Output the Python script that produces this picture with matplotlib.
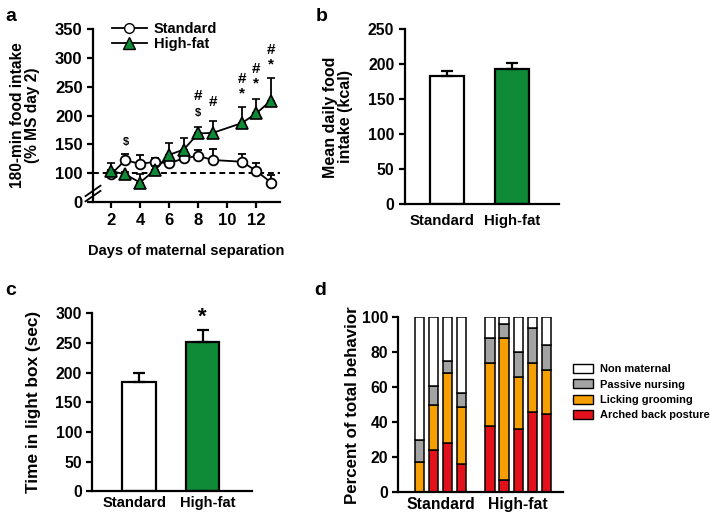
import matplotlib
matplotlib.use('Agg')
import matplotlib.pyplot as plt
import numpy as np
from matplotlib.patches import Patch
from matplotlib.lines import Line2D

plt.rcParams['font.family'] = ['Liberation Sans', 'DejaVu Sans']
plt.rcParams['font.weight'] = 'bold'
plt.rcParams['axes.labelweight'] = 'bold'
plt.rcParams['axes.linewidth'] = 1.6

GREEN = '#0f8a36'
ORANGE = '#f5a000'
RED = '#e3111b'
GREY = '#a3a3a3'

# panel a: food intake over days of maternal separation
days = [2, 3, 4, 5, 6, 7, 8, 9, 11, 12, 13]
std_intake = [98, 123, 116, 120, 117, 126, 130, 123, 120, 104, 84]
std_err = [8, 10, 15, 7, 8, 8, 10, 19, 13, 13, 13]
hf_intake = [104, 98, 84, 105, 132, 141, 169, 170, 187, 204, 226]
hf_err = [14, 5, 14, 8, 20, 20, 12, 21, 28, 25, 39]
# annotations (day, height, symbol)
marks_a = [(3, 146, '$'), (8, 196, '$'), (8, 221, '#'), (9, 211, '#'),
           (11, 226, '*'), (11, 252, '#'), (12, 244, '*'), (12, 268, '#'),
           (13, 277, '*'), (13, 302, '#')]

# panel b: mean daily food intake
groups = ['Standard', 'High-fat']
daily_kcal = [183, 194]
daily_err = [8, 8]

# panel c: time in light box
light_time = [184, 252]
light_err = [16, 19]

# panel d: maternal behaviour per dam (4 standard, 5 high-fat)
arched = [0, 24, 28, 16, 38, 7, 36, 46, 45]
licking = [17, 26, 40, 33, 36, 81, 30, 28, 25]
passive = [13, 11, 7, 8, 14, 8, 14, 20, 14]
non_maternal = [100 - a - l - p for a, l, p in zip(arched, licking, passive)]
dam_pos = [0, 1, 2, 3, 5, 6, 7, 8, 9]

fig = plt.figure(figsize=(7.1, 5.17), dpi=100)


def style(ax, size=11):
    ax.spines['top'].set_visible(False)
    ax.spines['right'].set_visible(False)
    ax.tick_params(width=1.6, length=4, labelsize=size)
    for t in ax.get_xticklabels() + ax.get_yticklabels():
        t.set_fontweight('bold')


# ---- a ----
ax = fig.add_axes([0.131, 0.609, 0.263, 0.335])
ax.axhline(100, color='black', ls=(0, (3, 2)), lw=1.4, zorder=1)
ax.errorbar(days, std_intake, yerr=[np.zeros(len(days)), std_err], color='black',
            lw=1.3, capsize=3, capthick=1.3, marker='o', ms=7, mfc='white',
            mec='black', mew=1.3, zorder=3)
ax.errorbar(days, hf_intake, yerr=[np.zeros(len(days)), hf_err], color='black',
            lw=1.3, capsize=3, capthick=1.3, marker='^', ms=8, mfc=GREEN,
            mec='black', mew=1.2, zorder=4)
for d, h, s in marks_a:
    ax.text(d, h, s, ha='center', va='bottom',
            fontsize=8 if s == '$' else 11, fontweight='bold')
ax.set_xlim(0.77, 13.6)
ax.set_ylim(50, 350)
ax.set_xticks([2, 4, 6, 8, 10, 12])
ax.set_yticks([50, 100, 150, 200, 250, 300, 350])
ax.set_yticklabels(['0', '100', '150', '200', '250', '300', '350'])
ax.set_xlabel('Days of maternal separation', fontsize=10.5, labelpad=12)
ax.set_ylabel('180-min food intake\n(% MS day 2)', fontsize=11.2, linespacing=1.0)
ax.yaxis.set_label_coords(-0.283, 0.5)
style(ax, 12)
# axis break mark
for dy in (-0.015, 0.015):
    ax.plot([-0.04, 0.04], [0.05 + dy - 0.03, 0.05 + dy + 0.03],
            transform=ax.transAxes, color='black', lw=1.3, clip_on=False)
handles = [Line2D([], [], color='black', lw=1.3, marker='o', ms=7, mfc='white', mec='black'),
           Line2D([], [], color='black', lw=1.3, marker='^', ms=8, mfc=GREEN, mec='black')]
ax.legend(handles, groups, loc='upper left', bbox_to_anchor=(0.10, 1.04), frameon=False,
          fontsize=10.5, handlelength=2.4, handletextpad=0.5, labelspacing=0.05,
          borderaxespad=0, borderpad=0)
fig.text(0.007, 0.985, 'a', fontsize=14, fontweight='bold', va='top')

# ---- b ----
ax = fig.add_axes([0.570, 0.605, 0.218, 0.338])
ax.bar([0, 1], daily_kcal, width=0.51, color=['white', GREEN], edgecolor='black', lw=1.6)
ax.errorbar([0, 1], daily_kcal, yerr=[[0, 0], daily_err], fmt='none', ecolor='black',
            elinewidth=1.6, capsize=4, capthick=1.6)
ax.set_xlim(-0.65, 1.73)
ax.set_ylim(0, 250)
ax.set_yticks([0, 50, 100, 150, 200, 250])
ax.set_xticks([-0.08, 1])
ax.set_xticklabels(groups)
ax.set_ylabel('Mean daily food\nintake (kcal)', fontsize=11.5, linespacing=1.0)
ax.yaxis.set_label_coords(-0.335, 0.5)
style(ax, 11.3)
ax.tick_params(axis='x', length=0, pad=7, labelsize=10.8)
fig.text(0.444, 0.985, 'b', fontsize=14, fontweight='bold', va='top')

# ---- c ----
ax = fig.add_axes([0.130, 0.050, 0.225, 0.344])
ax.bar([0, 1], light_time, width=0.53, color=['white', GREEN], edgecolor='black', lw=1.6)
ax.errorbar([0, 1], light_time, yerr=[[0, 0], light_err], fmt='none', ecolor='black',
            elinewidth=1.6, capsize=4, capthick=1.6)
ax.text(1, light_time[1] + light_err[1] + 4, '*', ha='center', va='bottom',
        fontsize=16, fontweight='bold')
ax.set_xlim(-0.74, 1.78)
ax.set_ylim(0, 300)
ax.set_yticks([0, 50, 100, 150, 200, 250, 300])
ax.set_xticks([-0.08, 1.08])
ax.set_xticklabels(groups)
ax.set_ylabel('Time in light box (sec)', fontsize=12.4)
ax.yaxis.set_label_coords(-0.32, 0.5)
style(ax, 11.3)
ax.tick_params(axis='x', length=0, labelsize=10.6)
fig.text(0.007, 0.455, 'c', fontsize=14, fontweight='bold', va='top')

# ---- d ----
ax = fig.add_axes([0.561, 0.048, 0.232, 0.338])
bottom = np.zeros(len(dam_pos))
for vals, col, lab in [(arched, RED, 'Arched back posture'),
                       (licking, ORANGE, 'Licking grooming'),
                       (passive, GREY, 'Passive nursing'),
                       (non_maternal, 'white', 'Non maternal')]:
    ax.bar(dam_pos, vals, bottom=bottom, width=0.67, color=col, edgecolor='black', lw=1.1,
           label=lab)
    bottom += np.array(vals)
ax.set_xlim(-1.48, 10.16)
ax.set_ylim(0, 100)
ax.set_yticks([0, 20, 40, 60, 80, 100])
ax.set_xticks([1.5, 7])
ax.set_xticklabels(groups)
ax.set_ylabel('Percent of total behavior', fontsize=12.2)
ax.yaxis.set_label_coords(-0.23, 0.5)
style(ax, 11.3)
ax.tick_params(axis='x', length=0, labelsize=11.3)
leg_handles = [Patch(facecolor=c, edgecolor='black', lw=1) for c in ['white', GREY, ORANGE, RED]]
leg_labels = ['Non maternal', 'Passive nursing', 'Licking grooming', 'Arched back posture']
fig.legend(leg_handles, leg_labels, loc='upper left', bbox_to_anchor=(0.807, 0.296),
           frameon=False, fontsize=7.9, handlelength=1.8, handleheight=0.9,
           handletextpad=0.7, labelspacing=0.45, borderaxespad=0, borderpad=0)
fig.text(0.442, 0.455, 'd', fontsize=14, fontweight='bold', va='top')

fig.savefig('out.png', dpi=100)
